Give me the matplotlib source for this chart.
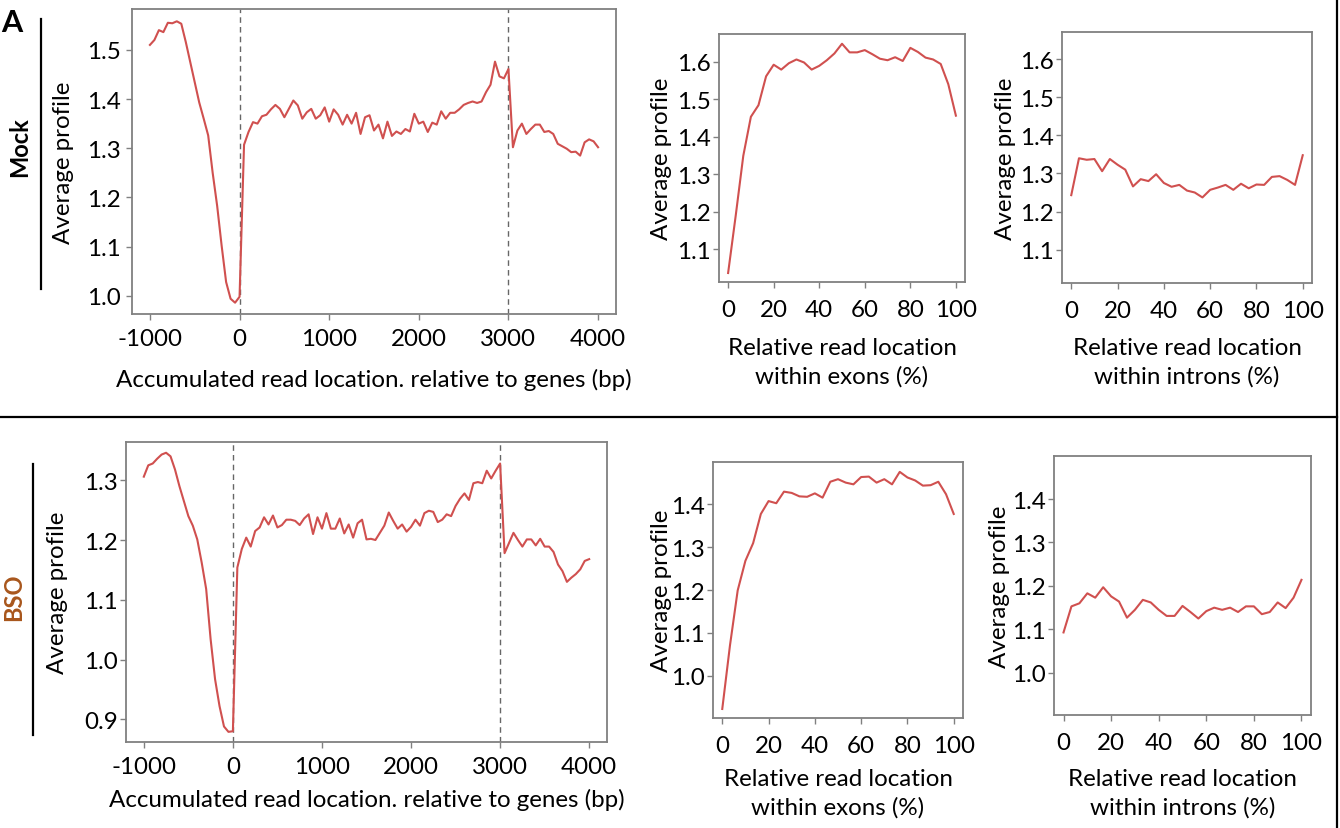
import numpy as np
import matplotlib.pyplot as plt
from matplotlib.lines import Line2D

plt.rcParams['font.family'] = ['Lato', 'DejaVu Sans']
plt.rcParams['axes.unicode_minus'] = False

W, H = 1340, 829

# accumulated read location relative to genes, 50 bp bins
gene_x = np.arange(-1000, 4001, 50)
mock_gene = [
    1.510, 1.520, 1.540, 1.536, 1.555, 1.554, 1.558, 1.553, 1.516, 1.475,
    1.434, 1.393, 1.360, 1.326, 1.250, 1.183, 1.102, 1.028, 0.994, 0.986,
    0.998,
    1.307, 1.333, 1.353, 1.350, 1.365, 1.368, 1.379, 1.388, 1.380, 1.363,
    1.380, 1.397, 1.387, 1.360, 1.373, 1.380, 1.360, 1.367, 1.383, 1.354,
    1.379, 1.368, 1.348, 1.368, 1.350, 1.372, 1.329, 1.363, 1.367, 1.336,
    1.348, 1.320, 1.354, 1.325, 1.334, 1.329, 1.339, 1.334, 1.370, 1.350,
    1.354, 1.333, 1.352, 1.348, 1.375, 1.360, 1.372, 1.372, 1.379, 1.388,
    1.392, 1.395, 1.392, 1.395, 1.414, 1.429, 1.476, 1.446, 1.442, 1.461,
    1.302, 1.336, 1.350, 1.329, 1.339, 1.348, 1.348, 1.333, 1.335, 1.329,
    1.309, 1.304, 1.299, 1.292, 1.293, 1.285, 1.312, 1.318, 1.314, 1.302,
]
bso_gene = [
    1.306, 1.325, 1.328, 1.336, 1.343, 1.346, 1.340, 1.318, 1.290, 1.265,
    1.240, 1.224, 1.201, 1.162, 1.118, 1.034, 0.967, 0.922, 0.888, 0.879,
    0.880,
    1.154, 1.185, 1.204, 1.189, 1.215, 1.221, 1.238, 1.226, 1.241, 1.221,
    1.225, 1.234, 1.234, 1.232, 1.225, 1.236, 1.243, 1.210, 1.238, 1.219,
    1.245, 1.219, 1.219, 1.236, 1.211, 1.226, 1.204, 1.228, 1.234, 1.201,
    1.202, 1.200, 1.212, 1.224, 1.246, 1.232, 1.219, 1.226, 1.214, 1.222,
    1.234, 1.224, 1.245, 1.249, 1.247, 1.230, 1.234, 1.243, 1.240, 1.257,
    1.269, 1.278, 1.267, 1.295, 1.297, 1.295, 1.316, 1.303, 1.316, 1.328,
    1.178, 1.195, 1.212, 1.200, 1.189, 1.201, 1.201, 1.191, 1.202, 1.189,
    1.189, 1.180, 1.159, 1.148, 1.130, 1.137, 1.143, 1.151, 1.165, 1.168,
]

# relative read location within exons / introns (%)
rel_x = np.linspace(0, 100, 31)
mock_exon = [
    1.036, 1.189, 1.349, 1.453, 1.484, 1.561, 1.592, 1.579, 1.596, 1.606,
    1.598, 1.579, 1.589, 1.604, 1.622, 1.648, 1.625, 1.625, 1.631, 1.620,
    1.608, 1.604, 1.612, 1.602, 1.637, 1.626, 1.611, 1.606, 1.594, 1.540,
    1.456,
]
mock_intron = [
    1.243, 1.340, 1.336, 1.338, 1.306, 1.338, 1.323, 1.310, 1.266, 1.285,
    1.280, 1.298, 1.275, 1.265, 1.270, 1.255, 1.250, 1.237, 1.257, 1.263,
    1.270, 1.257, 1.273, 1.261, 1.271, 1.270, 1.291, 1.293, 1.283, 1.270,
    1.348,
]
bso_exon = [
    0.923, 1.071, 1.199, 1.268, 1.309, 1.377, 1.407, 1.402, 1.429, 1.426,
    1.418, 1.417, 1.425, 1.415, 1.452, 1.458, 1.450, 1.446, 1.463, 1.464,
    1.450, 1.458, 1.446, 1.475, 1.462, 1.455, 1.443, 1.444, 1.452, 1.423,
    1.377,
]
bso_intron = [
    1.093, 1.153, 1.160, 1.183, 1.173, 1.197, 1.176, 1.164, 1.127, 1.145,
    1.168, 1.162, 1.145, 1.131, 1.131, 1.154, 1.140, 1.125, 1.142, 1.150,
    1.145, 1.150, 1.140, 1.153, 1.153, 1.135, 1.140, 1.162, 1.149, 1.173,
    1.214,
]

gene_ticks = [-1000, 0, 1000, 2000, 3000, 4000]
rel_ticks = [0, 20, 40, 60, 80, 100]
gene_label = "Accumulated read location. relative to genes (bp)"
exon_label = "Relative read location\nwithin exons (%)"
intron_label = "Relative read location\nwithin introns (%)"

RED = "#D0504F"
FRAME = "#808080"
FS = 17.4


def rect(l, r, t, b):
    return [l / W, 1 - b / H, (r - l) / W, (b - t) / H]


def panel(box, x, y, xlim, ylim, xticks, yticks, xlabel, ylab_x, xlab_y, ypad, xpad, dashed=()):
    ax = fig.add_axes(rect(*box))
    for v in dashed:
        ax.axvline(v, color="#666666", lw=1.0, ls=(0, (4, 3)))
    ax.plot(x, y, color=RED, lw=1.5)
    ax.set_xlim(*xlim)
    ax.set_ylim(*ylim)
    ax.set_xticks(xticks)
    ax.set_yticks(yticks)
    ax.set_yticklabels([f"{t:.1f}" for t in yticks])
    for s in ax.spines.values():
        s.set_color(FRAME)
        s.set_linewidth(1.3)
    ax.tick_params(axis="both", color=FRAME, length=4, width=1.0, labelsize=FS)
    ax.tick_params(axis="y", pad=ypad)
    ax.tick_params(axis="x", pad=xpad)
    l, r, t, b = box
    ax.set_ylabel("Average profile", fontsize=FS, va="center")
    ax.yaxis.set_label_coords((ylab_x - l) / (r - l), 0.5)
    ax.set_xlabel(xlabel, fontsize=FS, va="center", linespacing=1.4)
    ax.xaxis.set_label_coords(0.5, (b - xlab_y) / (b - t))
    return ax


fig = plt.figure(figsize=(W / 100, H / 100), dpi=100)

# Mock row
panel((132, 616, 10, 315), gene_x, mock_gene, (-1200, 4200), (0.963, 1.583),
      gene_ticks, [1.0, 1.1, 1.2, 1.3, 1.4, 1.5], gene_label, 64, 380, 4, 6, dashed=(0, 3000))
panel((719, 965, 35, 283), rel_x, mock_exon, (-4, 104), (1.012, 1.674),
      rel_ticks, [1.1, 1.2, 1.3, 1.4, 1.5, 1.6], exon_label, 661, 363, 2, 8)
panel((1062, 1312, 33, 284), rel_x, mock_intron, (-4, 104), (1.012, 1.672),
      rel_ticks, [1.1, 1.2, 1.3, 1.4, 1.5, 1.6], intron_label, 1006, 363, 2, 8)

# BSO row
panel((126, 607, 443, 743), gene_x, bso_gene, (-1200, 4200), (0.862, 1.364),
      gene_ticks, [0.9, 1.0, 1.1, 1.2, 1.3], gene_label, 57, 800, 2, 6, dashed=(0, 3000))
panel((713, 963, 463, 719), rel_x, bso_exon, (-4, 104), (0.902, 1.498),
      rel_ticks, [1.0, 1.1, 1.2, 1.3, 1.4], exon_label, 662, 794, 2, 8)
panel((1054, 1311, 457, 716), rel_x, bso_intron, (-4, 104), (0.903, 1.499),
      rel_ticks, [1.0, 1.1, 1.2, 1.3, 1.4], intron_label, 999, 794, 2, 8)

# row labels and frame lines
fig.text(12 / W, 1 - 23 / H, "A", fontsize=22, fontweight="bold", ha="center", va="center")
fig.text(20 / W, 1 - 147 / H, "Mock", fontsize=17, fontweight="bold", rotation=90,
         ha="center", va="center")
fig.text(14 / W, 1 - 597 / H, "BSO", fontsize=17, fontweight="bold", rotation=90,
         ha="center", va="center", color="#A8561C")
for x0, y0, x1, y1 in [(41, 20, 41, 290), (33, 465, 33, 736), (0, 418, 1337, 418), (1337, 0, 1337, 829)]:
    fig.add_artist(Line2D([x0 / W, x1 / W], [1 - y0 / H, 1 - y1 / H], color="black", lw=1.6))

fig.savefig("out.png", dpi=100)
